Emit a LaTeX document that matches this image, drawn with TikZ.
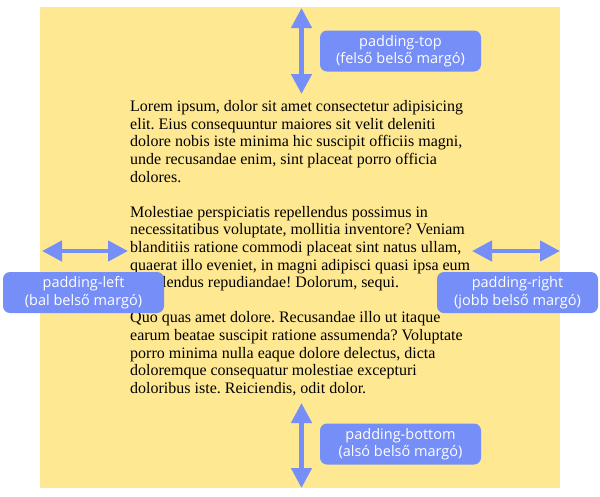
\documentclass[tikz,border=0pt]{standalone}
\usepackage{fontspec}
\setmainfont{Liberation Serif}
\newfontfamily\labelfont{Open Sans}
\usetikzlibrary{arrows.meta}
\definecolor{padyellow}{RGB}{255,232,146}
\definecolor{padblue}{RGB}{118,142,248}
\tikzset{
  padarrow/.style={draw=padblue, line width=4.5pt,
    {Triangle[width=20pt,length=20pt]}-{Triangle[width=20pt,length=20pt]}},
  padlabel/.style={fill=padblue, rounded corners=7pt, text=white, inner sep=0pt,
    minimum width=161pt, minimum height=41pt, align=center,
    font=\labelfont\fontsize{14.5}{17.5}\selectfont},
}
\begin{document}
\begin{tikzpicture}[x=1pt,y=-1pt]
\useasboundingbox (0,0) rectangle (600,496);
\fill[padyellow] (40,7) rectangle (560,488);
\node[anchor=base west, inner sep=0pt] (body) at (130,111.7) {\parbox[t]{360pt}{\raggedright\frenchspacing\fontsize{16}{17.6}\selectfont
Lorem ipsum, dolor sit amet consectetur adipisicing\\
elit. Eius consequuntur maiores sit velit deleniti\\
dolore nobis iste minima hic suscipit officiis magni,\\
unde recusandae enim, sint placeat porro officia\\
dolores.\\[17.6pt]
Molestiae perspiciatis repellendus possimus in\\
necessitatibus voluptate, mollitia inventore? Veniam\\
blanditiis ratione commodi placeat sint natus ullam,\\
quaerat illo eveniet, in magni adipisci quasi ipsa eum\\
repellendus repudiandae! Dolorum, sequi.\\[17.6pt]
Quo quas amet dolore. Recusandae illo ut itaque\\
earum beatae suscipit ratione assumenda? Voluptate\\
porro minima nulla eaque dolore delectus, dicta\\
doloremque consequatur molestiae excepturi\\
doloribus iste. Reiciendis, odit dolor.}};
\coordinate (topA) at (301.5,8);
\coordinate (topB) at (301.5,94);
\coordinate (botA) at (301.5,403);
\coordinate (botB) at (301.5,488);
\coordinate (leftA) at (42,251);
\coordinate (leftB) at (128,251);
\coordinate (rightA) at (472,251);
\coordinate (rightB) at (560,251);
\draw[padarrow] (topA) -- (topB);
\draw[padarrow] (botA) -- (botB);
\draw[padarrow] (leftA) -- (leftB);
\draw[padarrow] (rightA) -- (rightB);
\node[padlabel] (ltop) at (400.5,51) {padding-top\\(felső belső margó)};
\node[padlabel] (lleft) at (83.5,292.5) {padding-left\\(bal belső margó)};
\node[padlabel] (lright) at (517.5,292.5) {padding-right\\(jobb belső margó)};
\node[padlabel] (lbottom) at (400.5,444) {padding-bottom\\(alsó belső margó)};
\end{tikzpicture}
\end{document}
